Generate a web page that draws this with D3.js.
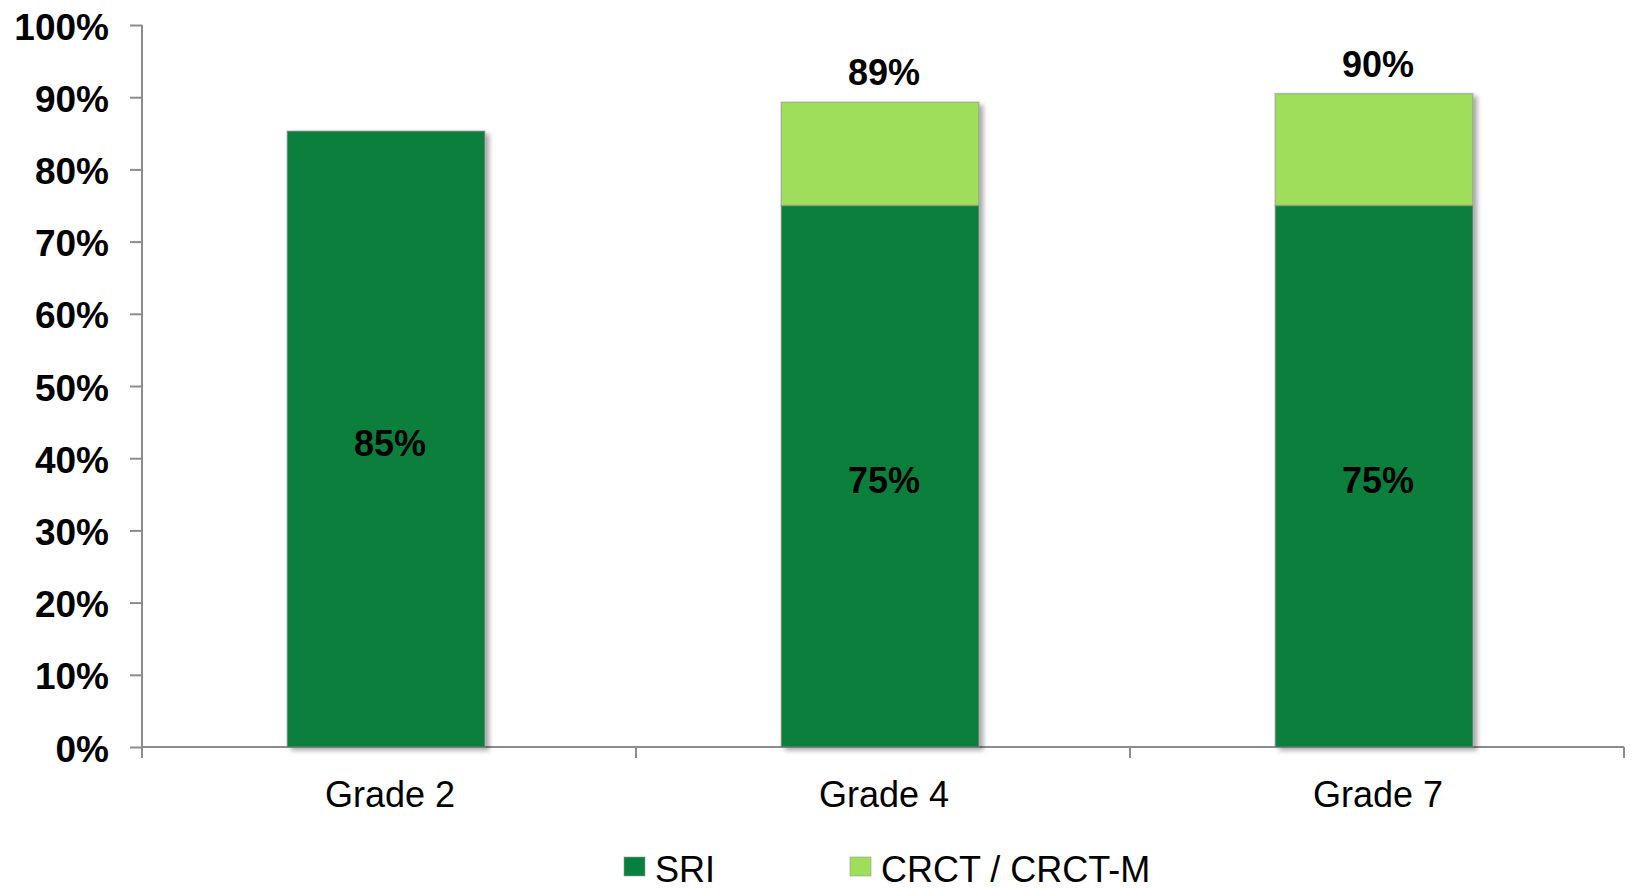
<!DOCTYPE html>
<html>
<head>
<meta charset="utf-8">
<script src="https://cdn.jsdelivr.net/npm/d3@7"></script>
<style>
  body { margin: 0; background: #fff; }
  svg { display: block; font-family: "Liberation Sans", Arial, sans-serif; }
</style>
</head>
<body>
<div id="chart"></div>
<script>
var grades = ['Grade 2', 'Grade 4', 'Grade 7'];
var sriValues = [85.3, 75, 75];
var crctValues = [0, 14.3, 15.5];
var sriLabels = ['85%', '75%', '75%'];
var totalLabels = ['', '89%', '90%'];
var yTicks = [0, 10, 20, 30, 40, 50, 60, 70, 80, 90, 100];
var seriesNames = ['SRI', 'CRCT / CRCT-M'];
var seriesColors = ['#077f3d', '#9ede5a'];

var width = 1634, height = 890;
var margin = { left: 142, right: 10, top: 25, bottom: 143 };

var svg = d3.select('#chart').append('svg')
  .attr('width', width)
  .attr('height', height);

var defs = svg.append('defs');
var shadow = defs.append('filter').attr('id', 'shadow')
  .attr('x', '-10%').attr('y', '-10%').attr('width', '130%').attr('height', '130%');
shadow.append('feGaussianBlur').attr('in', 'SourceAlpha').attr('stdDeviation', 2.5);
shadow.append('feOffset').attr('dx', 4).attr('dy', 3).attr('result', 'off');
shadow.append('feComponentTransfer').append('feFuncA').attr('type', 'linear').attr('slope', 0.35);
var merge = shadow.append('feMerge');
merge.append('feMergeNode');
merge.append('feMergeNode').attr('in', 'SourceGraphic');

var x = d3.scaleBand()
  .domain(grades)
  .range([margin.left, width - margin.right])
  .paddingInner(0.6)
  .paddingOuter(0.3)
  .align(0.49);

var y = d3.scaleLinear()
  .domain([0, 100])
  .range([height - margin.bottom, margin.top]);

// label centre sits a few px right of the bar centre, as in the original
function labelX(g) { return x(g) + x.bandwidth() / 2 + 4; }

// y axis
var yAxis = svg.append('g')
  .attr('transform', 'translate(' + margin.left + ',0)')
  .call(d3.axisLeft(y).tickValues(yTicks).tickSize(12).tickPadding(21)
    .tickFormat(function (d) { return d + '%'; }));
yAxis.selectAll('line, path').attr('stroke', '#8c8c8c').attr('stroke-width', 2);
yAxis.select('.domain').attr('d', 'M0,' + y(0) + 'V' + y(100));
yAxis.selectAll('text')
  .attr('fill', '#000')
  .attr('font-size', 37)
  .attr('font-weight', 'bold')
  .attr('font-family', '"Liberation Sans", Arial, sans-serif')
  .attr('dy', '0.38em');

// x axis with ticks between categories
var xAxisG = svg.append('g').attr('transform', 'translate(0,' + y(0) + ')');
xAxisG.append('line')
  .attr('x1', margin.left).attr('x2', width - margin.right)
  .attr('stroke', '#8c8c8c').attr('stroke-width', 2);
var boundaries = d3.range(grades.length + 1).map(function (i) {
  return margin.left + i * (width - margin.right - margin.left) / grades.length;
});
xAxisG.selectAll('.xtick').data(boundaries).enter().append('line')
  .attr('class', 'xtick')
  .attr('x1', function (d) { return d; }).attr('x2', function (d) { return d; })
  .attr('y1', 0).attr('y2', 11)
  .attr('stroke', '#8c8c8c').attr('stroke-width', 2);
xAxisG.selectAll('.xlabel').data(grades).enter().append('text')
  .attr('class', 'xlabel')
  .attr('x', labelX)
  .attr('y', 60)
  .attr('text-anchor', 'middle')
  .attr('font-size', 36)
  .text(function (d) { return d; });

// stacked bars
var rows = grades.map(function (g, i) {
  return { grade: g, sri: sriValues[i], crct: crctValues[i] };
});
var stack = d3.stack().keys(['sri', 'crct'])(rows);

var bars = svg.append('g').attr('filter', 'url(#shadow)');
stack.forEach(function (layer, li) {
  bars.selectAll('.seg' + li).data(layer.filter(function (d) { return d[1] > d[0]; }))
    .enter().append('rect')
    .attr('x', function (d) { return x(d.data.grade); })
    .attr('width', x.bandwidth())
    .attr('y', function (d) { return y(d[1]); })
    .attr('height', function (d) { return y(d[0]) - y(d[1]); })
    .attr('fill', seriesColors[li])
    .attr('stroke', '#8a8a8a')
    .attr('stroke-opacity', 0.5)
    .attr('stroke-width', 1.5);
});

// labels inside SRI segment
svg.selectAll('.sriLabel').data(rows).enter().append('text')
  .attr('x', function (d) { return labelX(d.grade); })
  .attr('y', function (d) { return (y(0) + y(d.sri)) / 2 + 4; })
  .attr('dy', '0.36em')
  .attr('text-anchor', 'middle')
  .attr('font-size', 36)
  .attr('font-weight', 'bold')
  .text(function (d, i) { return sriLabels[i]; });

// total labels above bars
svg.selectAll('.totLabel').data(rows).enter().append('text')
  .attr('x', function (d) { return labelX(d.grade); })
  .attr('y', function (d) { return y(d.sri + d.crct) - 17; })
  .attr('text-anchor', 'middle')
  .attr('font-size', 36)
  .attr('font-weight', 'bold')
  .text(function (d, i) { return totalLabels[i]; });

// legend
var legendX = [624, 850];
var legend = svg.append('g');
seriesNames.forEach(function (name, i) {
  legend.append('rect')
    .attr('x', legendX[i]).attr('y', 857)
    .attr('width', 21).attr('height', 19)
    .attr('fill', seriesColors[i])
    .attr('stroke', '#999').attr('stroke-opacity', 0.6);
  legend.append('text')
    .attr('x', legendX[i] + 31).attr('y', 882)
    .attr('font-size', 36)
    .text(name);
});
</script>
</body>
</html>
